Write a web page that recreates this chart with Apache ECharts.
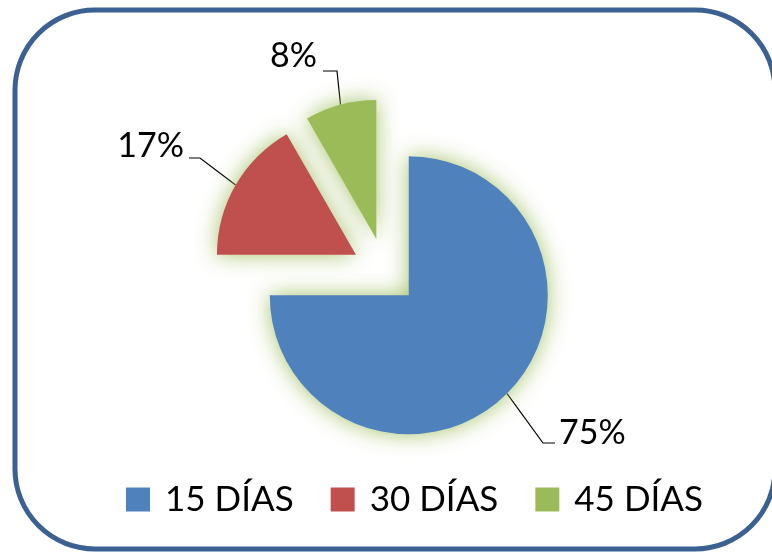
<!DOCTYPE html>
<html>
<head>
<meta charset="utf-8">
<script src="https://cdn.jsdelivr.net/npm/echarts@6/dist/echarts.min.js"></script>
<style>
html,body{margin:0;padding:0;background:#fff;}
#chart{width:772px;height:552px;}
</style>
</head>
<body>
<div id="chart"></div>
<script>
// ---- data ----
const categories = ['15 DÍAS', '30 DÍAS', '45 DÍAS'];
const values = [75, 16.7, 8.3];
const colors = ['#4F81BD', '#C0504D', '#9BBB59'];

// ---- layout (not data) ----
const pieCenter = [385, 271.5];
const pieRadius = 139;
const explode = 33.6;
const labelPlacement = [
  { x: 559, y: 433, align: 'left',  elbow: [543, 443], end: [555, 443] },
  { x: 184, y: 146, align: 'right', elbow: [200, 158], end: [189, 158] },
  { x: 317, y: 56,  align: 'right', elbow: [337, 71],  end: [323, 71] }
];

const chart = echarts.init(document.getElementById('chart'), null, { renderer: 'canvas' });

const total = values.reduce((a, b) => a + b, 0);
let cum = 0;
const series = values.map((v, i) => {
  const midFrac = (cum + v / 2) / total;
  cum += v;
  const a = Math.PI / 2 - 2 * Math.PI * midFrac;
  const c = [pieCenter[0] + explode * Math.cos(a), pieCenter[1] - explode * Math.sin(a)];
  return {
    type: 'pie',
    name: 's' + i,
    center: c,
    radius: pieRadius,
    startAngle: 90,
    clockwise: true,
    avoidLabelOverlap: false,
    silent: true,
    emphasis: { disabled: true },
    data: categories.map((name, j) => j === i ? {
      name: name,
      value: values[j],
      itemStyle: {
        color: colors[j],
        shadowBlur: 22,
        shadowColor: 'rgba(155,187,89,0.9)'
      },
      label: { show: true },
      labelLine: { show: true }
    } : {
      name: name,
      value: values[j],
      itemStyle: { color: 'rgba(0,0,0,0)', shadowBlur: 0 },
      label: { show: false },
      labelLine: { show: false }
    }),
    label: {
      formatter: p => Math.round(p.percent) + '%',
      fontFamily: 'Lato',
      fontSize: 34,
      color: '#000'
    },
    labelLine: {
      length: 30,
      length2: 12,
      lineStyle: { color: '#000', width: 1.2 }
    },
    labelLayout: function (params) {
      if (params.dataIndex !== i) return {};
      const p = labelPlacement[params.dataIndex];
      const start = params.labelLinePoints ? params.labelLinePoints[0] : p.elbow;
      return {
        x: p.x,
        y: p.y,
        align: p.align,
        verticalAlign: 'middle',
        labelLinePoints: [start, p.elbow, p.end]
      };
    }
  };
});

const option = {
  animation: false,
  backgroundColor: '#ffffff',
  graphic: [{
    type: 'rect',
    z: -10,
    shape: { x: 15, y: 10, width: 760, height: 539, r: 80 },
    style: { fill: 'none', stroke: '#3b6193', lineWidth: 5 }
  }],
  legend: {
    data: categories.map((n, i) => ({ name: n, itemStyle: { color: colors[i] } })),
    left: 126,
    top: 482,
    padding: 0,
    icon: 'rect',
    itemWidth: 24,
    itemHeight: 24,
    itemGap: 37,
    selectedMode: false,
    textStyle: {
      fontFamily: 'Lato',
      fontSize: 35,
      color: '#000',
      padding: [0, 0, 0, 10]
    }
  },
  series: series
};

chart.setOption(option);
</script>
</body>
</html>
